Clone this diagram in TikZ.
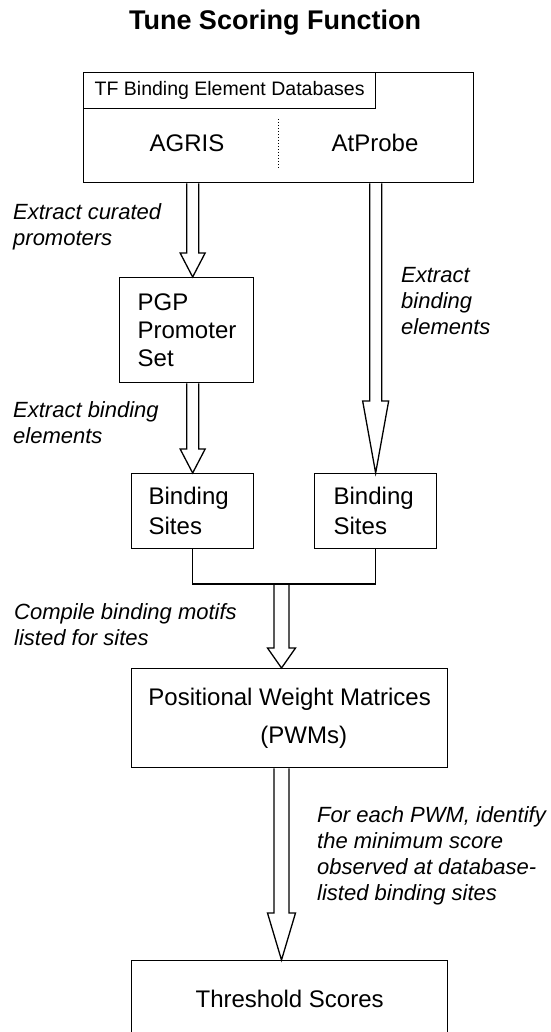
\documentclass[tikz,border=0pt]{standalone}
\usepackage{fontspec}
\setmainfont{Liberation Sans}
\usetikzlibrary{calc}

\begin{document}
\begin{tikzpicture}[x=1pt,y=-1pt,
    box/.style={draw,line width=1.3pt,inner sep=0pt,anchor=north west,align=left,font=\fontsize{24}{29}\selectfont},
    note/.style={anchor=west,align=left,inner sep=0pt,font=\fontsize{22}{26}\selectfont\itshape},
    hollow/.style n args={3}{draw,line width=1.3pt,line join=miter,
      to path={let \p1=(\tikztostart), \p2=(\tikztotarget) in
        (\x1-#2,\y1) -- (\x1-#2,\y2+#1) -- (\x1-#3,\y2+#1) -- (\x1,\y2)
        -- (\x1+#3,\y2+#1) -- (\x1+#2,\y2+#1) -- (\x1+#2,\y1)}}]
    \useasboundingbox (0,0) rectangle (550,1032);
    \fill[white] (0,0) rectangle (550,1032);
    \clip (0,0) rectangle (550,1032);

    \node[font=\fontsize{27}{32}\selectfont\bfseries] (title) at (275,23) {Tune Scoring Function};

    % databases
    \node[box,minimum width=390pt,minimum height=110pt] (db) at (83,72) {};
    \node[box,minimum width=292pt,minimum height=36pt,align=center,font=\fontsize{19.5}{22}\selectfont] (dbtag) at (db.north west) {TF Binding Element Databases};
    \node[font=\fontsize{24}{29}\selectfont] (agris) at (187,143) {AGRIS};
    \node[font=\fontsize{24}{29}\selectfont] (atprobe) at (375,143) {AtProbe};
    \draw[dotted,line width=1pt] ([yshift=-47pt]db.north) -- ([yshift=14pt]db.south);

    % boxes
    \node[box,inner xsep=18pt,text width=98pt,minimum height=105pt,font=\fontsize{24}{28}\selectfont] (pgp) at (119,277) {PGP\\Promoter\\Set};
    \node[box,inner xsep=17pt,text width=88pt,minimum height=75pt,font=\fontsize{24}{30}\selectfont] (binL) at (131,473) {Binding\\Sites};
    \node[box,inner xsep=19pt,text width=84pt,minimum height=75pt,font=\fontsize{24}{30}\selectfont] (binR) at (314,473) {Binding\\Sites};
    \node[box,minimum width=316pt,minimum height=99pt,font=\fontsize{24}{38}\selectfont] (pwm) at (131,668) {Positional Weight Matrices\\\hspace*{112pt}(PWMs)};
    \node[box,minimum width=316pt,minimum height=76pt,align=center] (thr) at (131,960) {Threshold Scores};
    \coordinate (merge) at (281.5,584);

    % notes
    \node[note] (curated) at (13,227) {Extract curated\\promoters};
    \node[note] (pickR) at (401,301) {Extract\\binding\\elements};
    \node[note] (pickL) at (13,423) {Extract binding\\elements};
    \node[note] (compile) at (14,625) {Compile binding motifs\\listed for sites};
    \node[note] (minscore) at (317,856) {For each PWM, identify\\the minimum score\\observed at database-\\listed binding sites};

    % arrows
    \draw[hollow={24}{6}{12.5}] (db.south -| binL) to (pgp.north -| binL);
    \draw[hollow={24}{6}{12.5}] (pgp.south -| binL) to (binL.north);
    \draw[hollow={72}{6}{13}] (db.south -| binR) to (binR.north);
    \draw[line width=1.3pt] (binL.south) |- (merge) -| (binR.south);
    \draw[hollow={20}{7.5}{14}] (merge) to (pwm.north -| merge);
    \draw[hollow={47}{7.5}{14}] (pwm.south -| merge) to (thr.north -| merge);
  \end{tikzpicture}
\end{document}
